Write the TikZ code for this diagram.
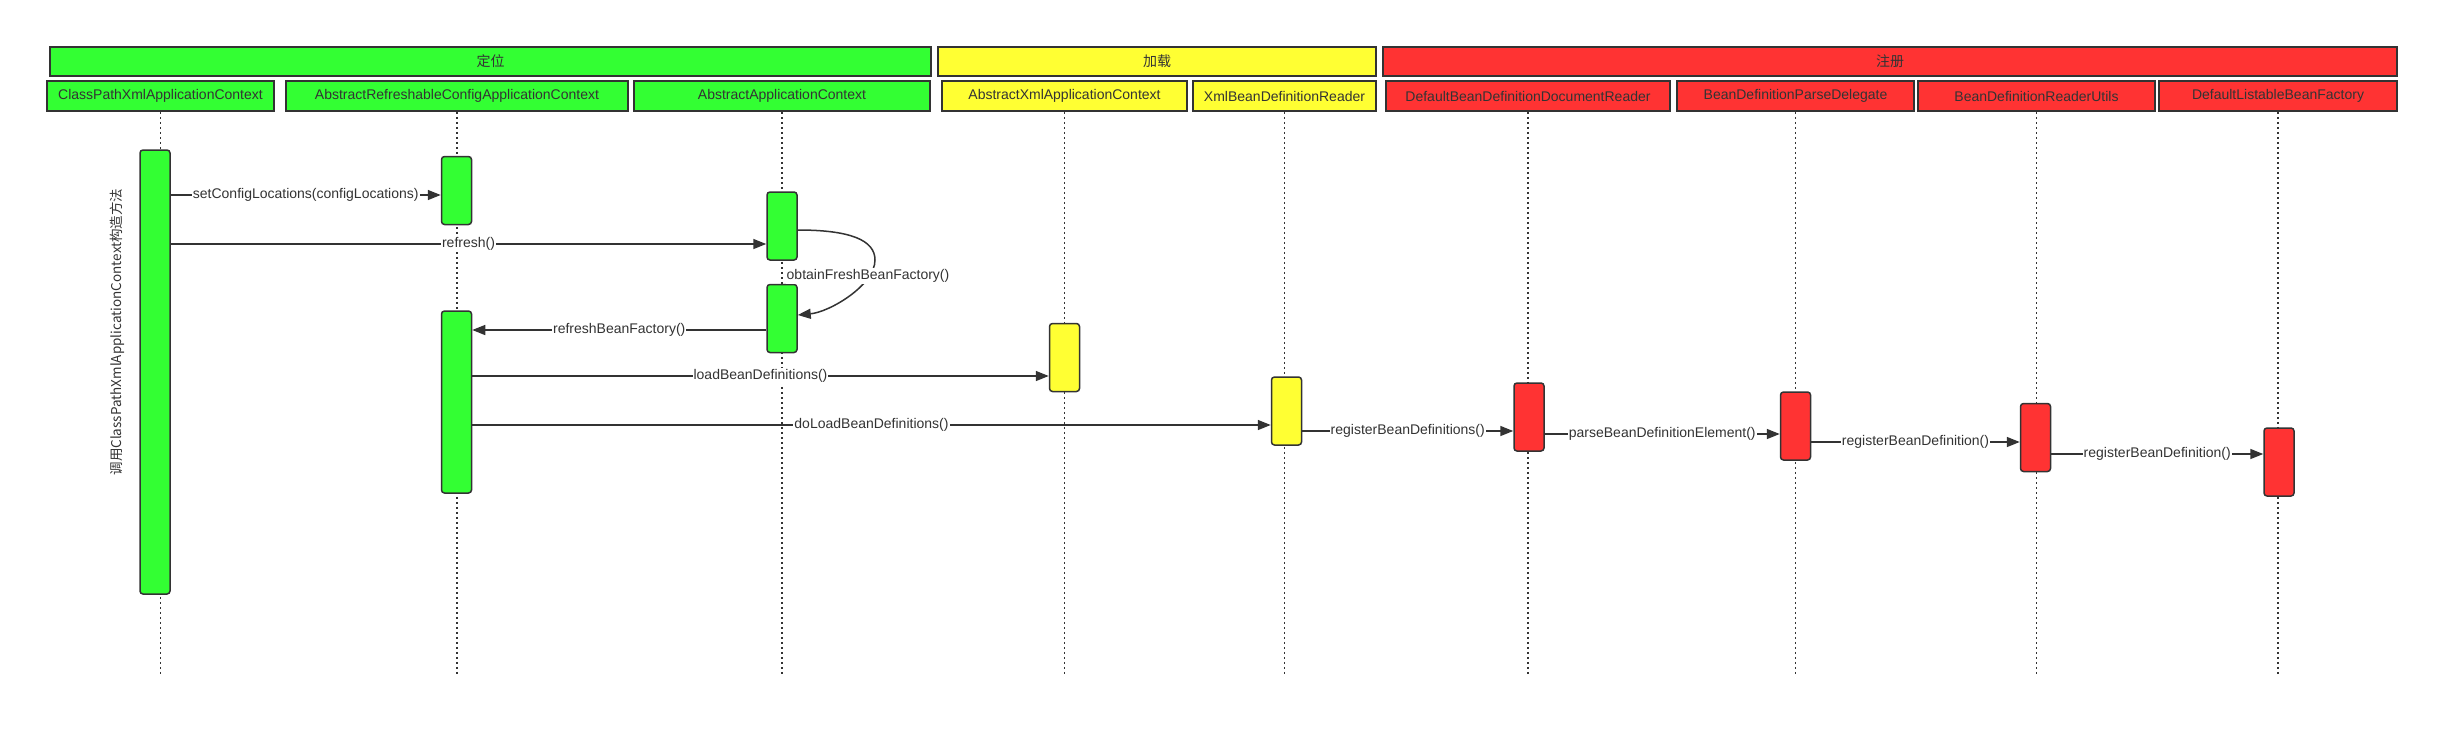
\documentclass[tikz,border=0pt]{standalone}
\usepackage{fontspec}
\setmainfont{Liberation Sans}
\newfontfamily\cjk{Noto Sans CJK SC}
\usetikzlibrary{arrows.meta}
\definecolor{ink}{HTML}{333333}
\definecolor{grn}{HTML}{33FF33}
\definecolor{ylw}{HTML}{FFFF33}
\definecolor{rd}{HTML}{FF3333}
\begin{document}
\begin{tikzpicture}[x=1pt,y=-1pt,
  every node/.style={text=ink,font=\fontsize{14}{16}\selectfont},
  head/.style={draw=ink,line width=1.5pt,minimum height=29pt,inner sep=0pt},
  cls/.style={draw=ink,line width=1.5pt,minimum height=30pt,inner sep=0pt},
  bar/.style={draw=ink,line width=1.5pt,rounded corners=3pt,minimum width=30pt,minimum height=68pt,inner sep=0pt},
  life/.style={ink,line width=1.8pt,dash pattern=on 1.8pt off 3.2pt},
  msg/.style={ink,line width=1.5pt,-{Triangle[length=13pt,width=10pt]}},
  lbl/.style={fill=white,inner sep=1pt}]
\useasboundingbox (0,0) rectangle (2459,742);

\node[head,fill=grn,minimum width=881pt] (g1) at (490.5,61.5) {\cjk 定位};
\node[head,fill=ylw,minimum width=438pt] (g2) at (1157,61.5) {\cjk 加载};
\node[head,fill=rd,minimum width=1014pt] (g3) at (1890,61.5) {\cjk 注册};

\node[cls,fill=grn,minimum width=227pt] (cp) at (160.5,96) {ClassPathXmlApplicationContext};
\node[cls,fill=grn,minimum width=342pt] (ar) at (457,96) {AbstractRefreshableConfigApplicationContext};
\node[cls,fill=grn,minimum width=296pt] (aa) at (782,96) {AbstractApplicationContext};
\node[cls,fill=ylw,minimum width=245pt] (ax) at (1064.5,96) {AbstractXmlApplicationContext};
\node[cls,fill=ylw,minimum width=183pt] (xb) at (1284.5,96) {XmlBeanDefinitionReader};
\node[cls,fill=rd,minimum width=284pt] (dd) at (1528,96) {DefaultBeanDefinitionDocumentReader};
\node[cls,fill=rd,minimum width=237pt] (bp) at (1795.5,96) {BeanDefinitionParseDelegate};
\node[cls,fill=rd,minimum width=237pt] (bu) at (2036.5,96) {BeanDefinitionReaderUtils};
\node[cls,fill=rd,minimum width=238pt] (dl) at (2278,96) {DefaultListableBeanFactory};

\foreach \c in {cp,ar,aa,ax,xb,dd,bp,bu,dl}
\draw[life] (\c.south) -- (\c.south |- 0,676);

\node[bar,fill=grn,minimum height=444pt] (cpb) at (155,372) {};
\node[bar,fill=grn] (arb1) at (456.5,190.5) {};
\node[bar,fill=grn] (aab1) at (782,226) {};
\node[bar,fill=grn] (aab2) at (782,318.5) {};
\node[bar,fill=grn,minimum height=182pt] (arb2) at (456.5,402) {};
\node[bar,fill=ylw] (axb) at (1064.5,357.5) {};
\node[bar,fill=ylw] (xbb) at (1286.5,411) {};
\node[bar,fill=rd] (ddb) at (1529,417) {};
\node[bar,fill=rd] (bpb) at (1795.5,426) {};
\node[bar,fill=rd] (bub) at (2035.5,437.5) {};
\node[bar,fill=rd] (dlb) at (2279,462) {};

\node[rotate=90,font=\cjk\fontsize{13.5}{16}\selectfont] (ctor) at (117,332) {调用ClassPathXmlApplicationContext构造方法};

\draw[msg] (cpb.east |- 0,195) -- node[lbl] {setConfigLocations(configLocations)} (arb1.west |- 0,195);
\draw[msg] (cpb.east |- 0,244) -- node[lbl] {refresh()} (aab1.west |- 0,244);
\draw[msg] (aab1.east |- 0,230) .. controls (850,230) and (875,240) .. (875,260) .. controls (875,285) and (830,312) .. (aab2.east |- 0,315);
\node[lbl] (obf) at (868,276) {obtainFreshBeanFactory()};
\draw[msg] (aab2.west |- 0,330) -- node[lbl] {refreshBeanFactory()} (arb2.east |- 0,330);
\draw[msg] (arb2.east |- 0,376) -- node[lbl] {loadBeanDefinitions()} (axb.west |- 0,376);
\draw[msg] (arb2.east |- 0,425) -- node[lbl] {doLoadBeanDefinitions()} (xbb.west |- 0,425);
\draw[msg] (xbb.east |- 0,431) -- node[lbl] {registerBeanDefinitions()} (ddb.west |- 0,431);
\draw[msg] (ddb.east |- 0,434) -- node[lbl] {parseBeanDefinitionElement()} (bpb.west |- 0,434);
\draw[msg] (bpb.east |- 0,442) -- node[lbl] {registerBeanDefinition()} (bub.west |- 0,442);
\draw[msg] (bub.east |- 0,454) -- node[lbl] {registerBeanDefinition()} (dlb.west |- 0,454);
\end{tikzpicture}
\end{document}
